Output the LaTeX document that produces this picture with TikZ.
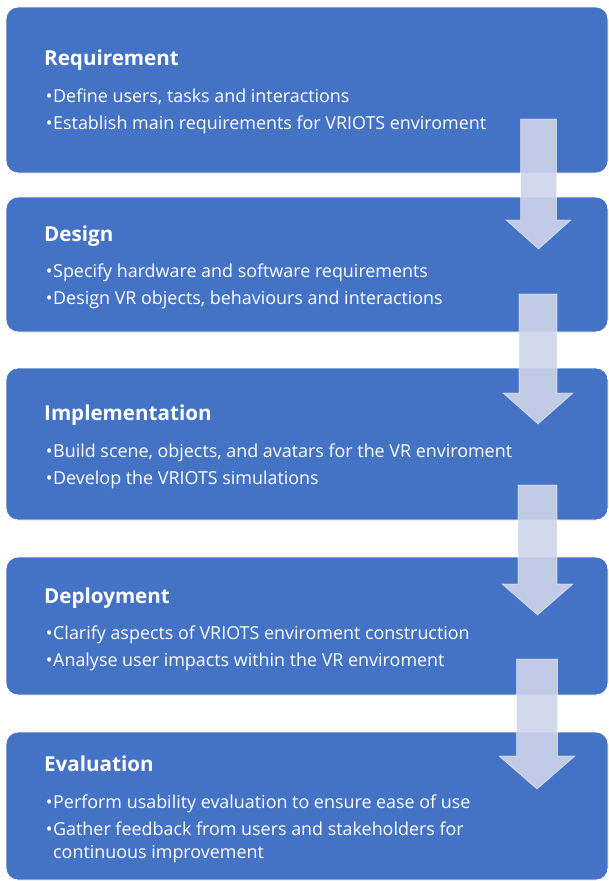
\documentclass[tikz,border=0pt]{standalone}
\usepackage{fontspec}
\setmainfont{Open Sans}
\begin{document}
\begin{tikzpicture}[x=1pt,y=-1pt,
  stagebox/.style={fill=stageblue,draw=white,line width=0.8pt,rounded corners=12pt},
  flowarrow/.style={fill=arrowfill,fill opacity=0.9,draw=white,draw opacity=0.5,line width=0.8pt},
  heading/.style={anchor=base west,inner sep=0pt,text=white,font=\fontsize{20.6}{24}\selectfont\bfseries},
  item/.style={anchor=base west,inner sep=0pt,text=white,font=\fontsize{17.9}{23}\selectfont}]
\definecolor{stageblue}{HTML}{4472C4}
\definecolor{arrowfill}{HTML}{CFD5EA}
\useasboundingbox (0,0) rectangle (609,881);
\fill[white] (0,0) rectangle (609,881);

% stage boxes
\path[stagebox] (6,7)   rectangle (608,173);
\path[stagebox] (6,197) rectangle (608,332);
\path[stagebox] (6,368) rectangle (608,520);
\path[stagebox] (6,557) rectangle (608,695);
\path[stagebox] (6,732) rectangle (608,880);

% block arrows between stages
\newcommand{\blockarrow}[7]{% left, right, top, head start, head left, head right, tip
  \path[flowarrow] (#1,#3) -- (#2,#3) -- (#2,#4) -- (#6,#4) -- ({(#5+#6)/2},#7)
    -- (#5,#4) -- (#1,#4) -- cycle;}
\blockarrow{520.5}{556.5}{119}{220}{506}{571}{249}
\blockarrow{519}{557}{294}{393}{503}{573}{424}
\blockarrow{518}{557}{485}{584}{502}{573}{615}
\blockarrow{516.5}{557.5}{659}{756}{499}{575}{789}

\newcommand{\bul}{\llap{\textbullet\kern0.6pt}}

% texts
\node[heading] (t1) at (44,65) {Requirement};
\node[item] (b11) at (53,102) {\bul Define users, tasks and interactions};
\node[item] (b12) at (53,129) {\bul Establish main requirements for VRIOTS enviroment};

\node[heading] (t2) at (44,241) {Design};
\node[item] (b21) at (53,277) {\bul Specify hardware and software requirements};
\node[item] (b22) at (53,304) {\bul Design VR objects, behaviours and interactions};

\node[heading] (t3) at (44,420) {Implementation};
\node[item] (b31) at (53,457) {\bul Build scene, objects, and avatars for the VR enviroment};
\node[item] (b32) at (53,484) {\bul Develop the VRIOTS simulations};

\node[heading] (t4) at (44,603) {Deployment};
\node[item] (b41) at (53,639) {\bul Clarify aspects of VRIOTS enviroment construction};
\node[item] (b42) at (53,666) {\bul Analyse user impacts within the VR enviroment};

\node[heading] (t5) at (44,771) {Evaluation};
\node[item] (b51) at (53,808) {\bul Perform usability evaluation to ensure ease of use};
\node[item] (b52) at (53,835) {\bul Gather feedback from users and stakeholders for};
\node[item] (b53) at (53,858) {continuous improvement};
\end{tikzpicture}
\end{document}
